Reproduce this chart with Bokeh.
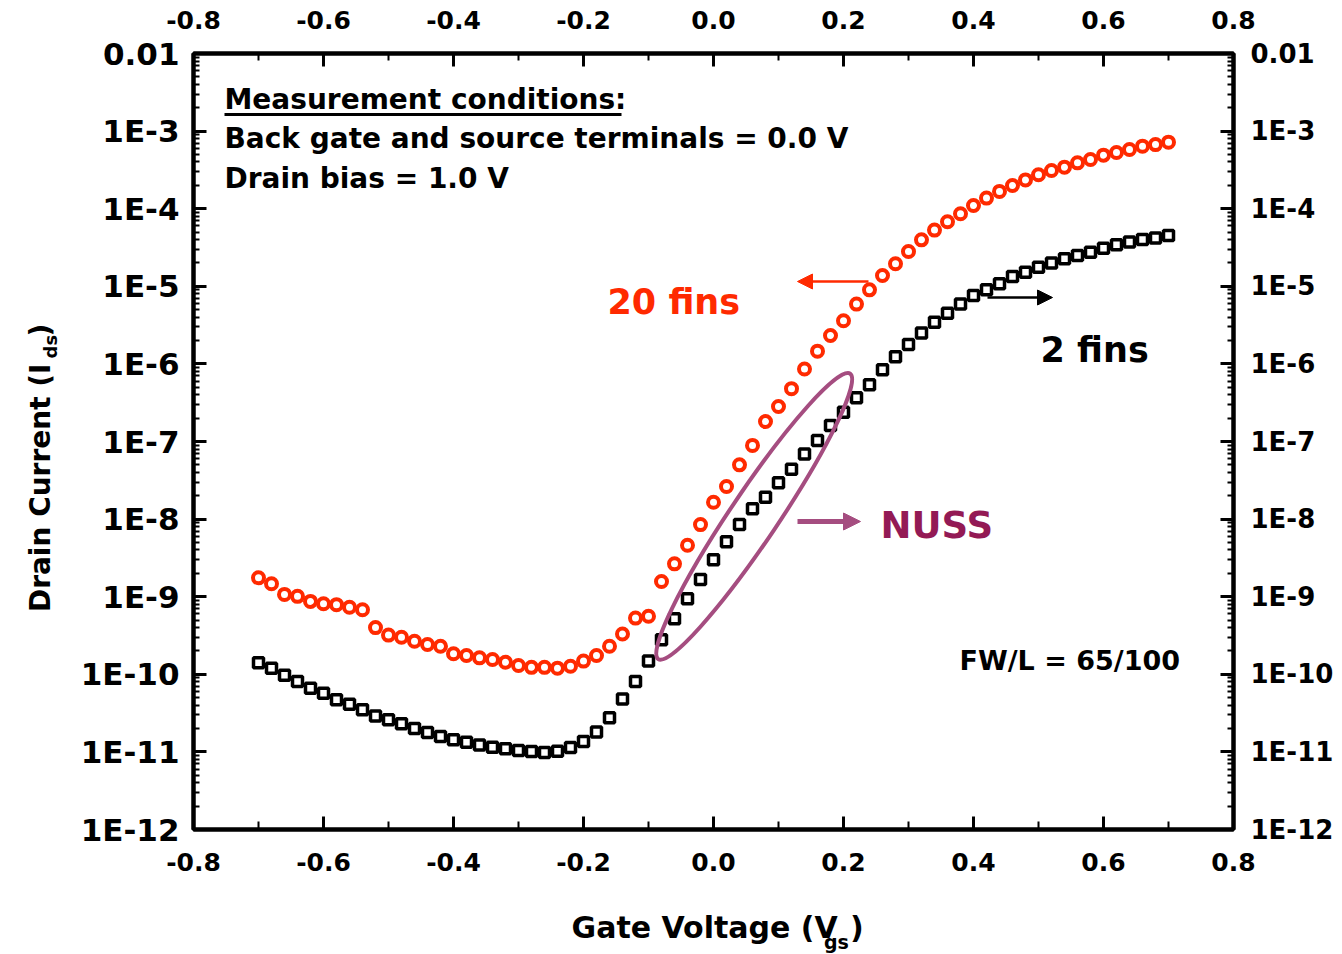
import math

from bokeh.plotting import figure
from bokeh.layouts import row, column
from bokeh.core.properties import value
from bokeh.models import (LinearAxis, LogAxis, FixedTicker, CustomJSTickFormatter,
                          Label, Arrow, NormalHead)
from bokeh.embed import file_html
from bokeh.resources import INLINE

# Gate voltage sweep (V)
vgs = [-0.70, -0.68, -0.66, -0.64, -0.62, -0.60, -0.58, -0.56, -0.54, -0.52,
       -0.50, -0.48, -0.46, -0.44, -0.42, -0.40, -0.38, -0.36, -0.34, -0.32,
       -0.30, -0.28, -0.26, -0.24, -0.22, -0.20, -0.18, -0.16, -0.14, -0.12,
       -0.10, -0.08, -0.06, -0.04, -0.02, 0.00, 0.02, 0.04, 0.06, 0.08,
       0.10, 0.12, 0.14, 0.16, 0.18, 0.20, 0.22, 0.24, 0.26, 0.28,
       0.30, 0.32, 0.34, 0.36, 0.38, 0.40, 0.42, 0.44, 0.46, 0.48,
       0.50, 0.52, 0.54, 0.56, 0.58, 0.60, 0.62, 0.64, 0.66, 0.68, 0.70]

# Drain current (A), 20-fin device
ids_20fins = [1.75e-9, 1.47e-9, 1.07e-9, 1.01e-9, 8.7e-10, 8.1e-10, 7.9e-10, 7.3e-10, 6.8e-10, 4.0e-10,
              3.2e-10, 3.0e-10, 2.67e-10, 2.42e-10, 2.30e-10, 1.84e-10, 1.75e-10, 1.63e-10, 1.55e-10, 1.43e-10,
              1.30e-10, 1.23e-10, 1.23e-10, 1.20e-10, 1.27e-10, 1.48e-10, 1.75e-10, 2.30e-10, 3.3e-10, 5.3e-10,
              5.6e-10, 1.57e-9, 2.65e-9, 4.6e-9, 8.5e-9, 1.65e-8, 2.63e-8, 5.0e-8, 8.9e-8, 1.81e-7,
              2.82e-7, 4.8e-7, 8.6e-7, 1.46e-6, 2.32e-6, 3.6e-6, 5.9e-6, 9.0e-6, 1.38e-5, 1.95e-5,
              2.81e-5, 3.97e-5, 5.3e-5, 6.8e-5, 8.6e-5, 1.10e-4, 1.37e-4, 1.67e-4, 1.99e-4, 2.35e-4,
              2.74e-4, 3.10e-4, 3.43e-4, 3.90e-4, 4.3e-4, 4.9e-4, 5.3e-4, 5.8e-4, 6.4e-4, 6.7e-4, 7.2e-4]

# Drain current (A), 2-fin device
ids_2fins = [1.41e-10, 1.20e-10, 9.7e-11, 8.1e-11, 6.6e-11, 5.7e-11, 4.7e-11, 4.1e-11, 3.5e-11, 2.9e-11,
             2.6e-11, 2.3e-11, 2.0e-11, 1.78e-11, 1.58e-11, 1.43e-11, 1.33e-11, 1.23e-11, 1.15e-11, 1.10e-11,
             1.04e-11, 1.01e-11, 9.8e-12, 1.02e-11, 1.14e-11, 1.36e-11, 1.80e-11, 2.75e-11, 4.8e-11, 8.1e-11,
             1.48e-10, 2.78e-10, 5.2e-10, 9.4e-10, 1.67e-9, 3.0e-9, 5.1e-9, 8.5e-9, 1.36e-8, 1.91e-8,
             2.93e-8, 4.4e-8, 6.9e-8, 1.03e-7, 1.61e-7, 2.39e-7, 3.66e-7, 5.4e-7, 8.4e-7, 1.24e-6,
             1.78e-6, 2.51e-6, 3.45e-6, 4.5e-6, 5.9e-6, 7.6e-6, 9.0e-6, 1.08e-5, 1.34e-5, 1.52e-5,
             1.76e-5, 1.99e-5, 2.26e-5, 2.49e-5, 2.75e-5, 3.10e-5, 3.42e-5, 3.71e-5, 4.0e-5, 4.2e-5, 4.5e-5]

# Axis ticks
x_major = [-0.8, -0.6, -0.4, -0.2, 0.0, 0.2, 0.4, 0.6, 0.8]
x_minor = [-0.7, -0.5, -0.3, -0.1, 0.1, 0.3, 0.5, 0.7]
y_exponents = [-12, -11, -10, -9, -8, -7, -6, -5, -4, -3, -2]

RED = "#FF2A00"
PURPLE = "#A54D80"
NUSS_COLOR = "#931A55"
FONT = "DejaVu Sans"

# Page geometry: a strip on the left for the y title, the chart, and a strip below for the x title
W, H = 1342, 954
LEFT_W = 70            # width of the y-title strip
BOTTOM_H = 49          # height of the x-title strip
MAIN_W, MAIN_H = W - LEFT_W, H - BOTTOM_H
BL, BR, BT = 193, 109, 53          # frame edges on the page
FB = 829                           # frame bottom on the page
X0, X1 = -0.8, 0.8
E_TOP, E_BOT = y_exponents[-1], y_exponents[0]
FW, FH = W - BL - BR, FB - BT

p = figure(width=MAIN_W, height=MAIN_H, x_range=(X0, X1),
           y_range=(10.0 ** E_BOT, 10.0 ** E_TOP), title=None,
           y_axis_type="log", output_backend="svg", toolbar_location=None,
           min_border_left=BL - LEFT_W, min_border_right=BR, min_border_top=BT,
           min_border_bottom=MAIN_H - FB)
p.xgrid.visible = False
p.ygrid.visible = False
p.outline_line_color = "black"
p.outline_line_width = 4
p.background_fill_color = "white"
p.border_fill_color = "white"


def at(px, py):
    """Page pixel position -> data coordinates of the chart (for annotations)."""
    x = X0 + (px - BL) / FW * (X1 - X0)
    y = 10.0 ** (E_TOP - (py - BT) / FH * (E_TOP - E_BOT))
    return x, y


def style_axis(ax, size, standoff, minor_len):
    ax.axis_line_width = 4
    ax.axis_line_color = "black"
    ax.major_tick_line_width = 3
    ax.minor_tick_line_width = 2
    ax.major_tick_in = 13
    ax.major_tick_out = 0
    ax.minor_tick_in = minor_len
    ax.minor_tick_out = 0
    ax.major_label_text_font = FONT
    ax.major_label_text_font_style = "bold"
    ax.major_label_text_font_size = f"{size}px"
    ax.major_label_text_color = "black"
    ax.major_label_standoff = standoff


x_ticker = FixedTicker(ticks=x_major, minor_ticks=x_minor)
x_fmt = CustomJSTickFormatter(code="return tick.toFixed(1);")
y_ticker = FixedTicker(ticks=[10.0 ** e for e in y_exponents],
                       minor_ticks=[m * 10.0 ** e for e in y_exponents[:-1] for m in range(2, 10)])
y_fmt = CustomJSTickFormatter(code="""
const e = Math.round(Math.log10(tick));
return e == -2 ? "0.01" : "1E" + e;
""")

xb = p.xaxis[0]
xb.ticker = x_ticker
xb.formatter = x_fmt
style_axis(xb, 25, 23, 8)

xt = LinearAxis(ticker=x_ticker, formatter=x_fmt)
style_axis(xt, 25, 25, 7)
p.add_layout(xt, "above")

yl = p.yaxis[0]
yl.ticker = y_ticker
yl.formatter = y_fmt
style_axis(yl, 31, 14, 6)

yr = LogAxis(ticker=y_ticker, formatter=y_fmt)
style_axis(yr, 26, 17, 6)
p.add_layout(yr, "right")

# Measured transfer curves
p.scatter(vgs, ids_20fins, marker="circle", size=11, fill_color="white",
          line_color=RED, line_width=4)
p.scatter(vgs, ids_2fins, marker="square", size=10, fill_color="white",
          line_color="black", line_width=3.5)

# Sub-threshold region highlight
ex, ey = at(753.7, 515.9)
p.ellipse(x=[ex], y=[ey], width=[344], height=[48], angle=math.radians(56.1),
          width_units="screen", height_units="screen",
          fill_color=None, line_color=PURPLE, line_width=4)


def txt(px, py, s, size, color="black"):
    """Text inside the frame, anchored by its left edge and vertical centre."""
    x, y = at(px, py)
    p.add_layout(Label(x=x, y=y, text=s, text_font=FONT, text_font_style="bold",
                       text_font_size=f"{size}px", text_color=color,
                       text_align="left", text_baseline="alphabetic"))


def arrow(px0, py0, px1, py1, color, lw, head):
    x0, y0 = at(px0, py0)
    x1, y1 = at(px1, py1)
    p.add_layout(Arrow(x_start=x0, y_start=y0, x_end=x1, y_end=y1,
                       line_color=color, line_width=lw,
                       end=NormalHead(size=head, fill_color=color, line_color=color, line_width=1)))


# Measurement notes
txt(224, 99, "Measurement conditions:", 28)
ux0, uy = at(224, 114)
ux1, _ = at(621, 114)
p.line([ux0, ux1], [uy, uy], line_color="black", line_width=3)
txt(224, 138, "Back gate and source terminals = 0.0 V", 28)
txt(224, 178, "Drain bias = 1.0 V", 28)

# Curve annotations
txt(607, 301, "20 fins", 35, RED)
arrow(868, 281, 797, 281, RED, 2.5, 15)
txt(1040, 349, "2 fins", 35)
arrow(987, 297, 1052, 297, "black", 2.5, 15)
txt(880, 525, "NUSS", 37, NUSS_COLOR)
arrow(797, 521, 860, 521, PURPLE, 5, 17)
txt(959, 660, "FW/L = 65/100", 27)


def title_strip(width, height):
    f = figure(width=width, height=height, x_range=(0, width), y_range=(height, 0),
               title=None, output_backend="svg", toolbar_location=None,
               x_axis_location=None, y_axis_location=None, min_border=0)
    f.xgrid.visible = False
    f.ygrid.visible = False
    f.outline_line_color = None
    f.background_fill_color = "white"
    f.border_fill_color = "white"
    return f


def strip_text(f, x, y, s, size, angle=0.0, align="left"):
    f.text(x=[x], y=[y], text=[s], angle=angle, text_font=value(FONT),
           text_font_style="bold", text_font_size=f"{size}px", text_color="black",
           text_align=align, text_baseline="middle")


# Y title: Drain Current (I_ds), reading upwards
ytitle = title_strip(LEFT_W, H)
strip_text(ytitle, 40, 363, "Drain Current (I", 28, math.pi / 2, "right")
strip_text(ytitle, 50, 358, "ds", 18, math.pi / 2)
strip_text(ytitle, 40, 336, ")", 28, math.pi / 2)

# X title: Gate Voltage (V_gs)
xtitle = title_strip(MAIN_W, BOTTOM_H)
strip_text(xtitle, 858 - LEFT_W, 927 - MAIN_H, "Gate Voltage (V", 30, 0.0, "right")
strip_text(xtitle, 841 - LEFT_W, 941 - MAIN_H, "gs", 19)
strip_text(xtitle, 873 - LEFT_W, 927 - MAIN_H, ")", 30)

page = row(ytitle, column(p, xtitle, spacing=0), spacing=0)

open("out.html", "w").write(file_html(page, INLINE))
